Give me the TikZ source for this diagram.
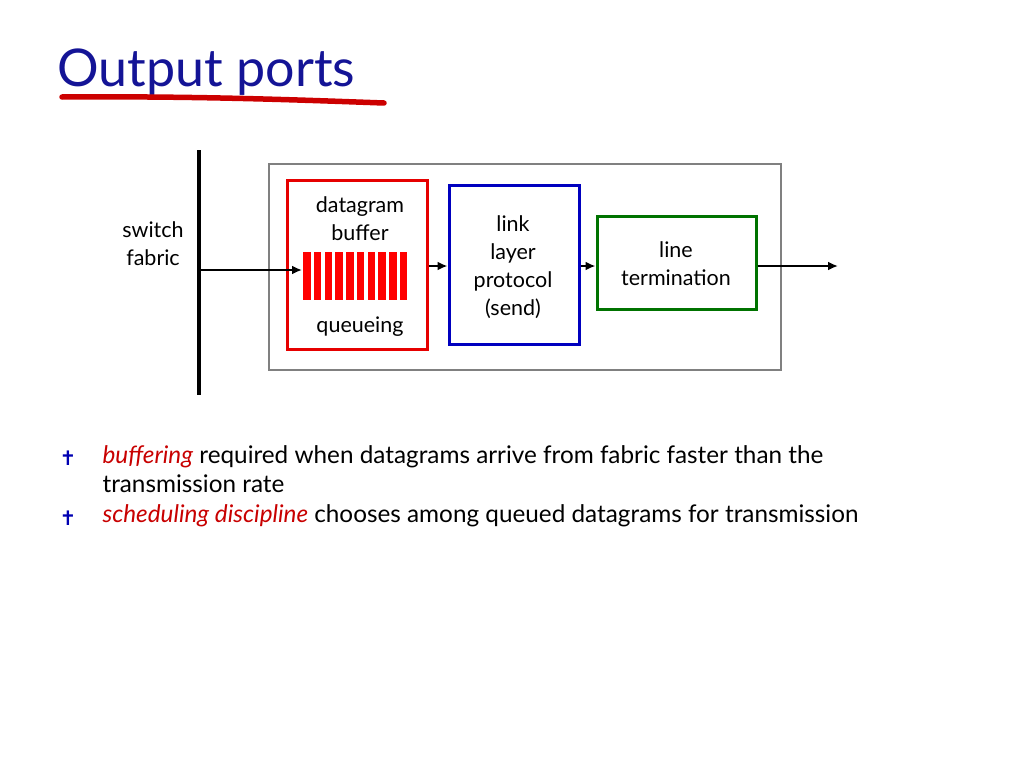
\documentclass[tikz,border=0pt]{standalone}
\usepackage{fontspec}
\setmainfont{Lato}
\newfontfamily\symfont{DejaVu Sans}
\usetikzlibrary{arrows.meta}
\definecolor{titleblue}{RGB}{20,20,150}
\definecolor{hotred}{RGB}{230,0,0}
\definecolor{itred}{RGB}{200,0,0}
\tikzset{
  box/.style={draw, line width=3pt},
  lbl/.style={font=\fontsize{21.5}{28}\selectfont, align=center},
  flow/.style={-{Latex[length=10pt,width=9pt]}, line width=2.2pt},
  qbar/.style={fill=red, draw=none}
}
\begin{document}
\begin{tikzpicture}[x=1pt, y=-1pt]
    \useasboundingbox (0,0) rectangle (1024,768);

    % title
    \node (title) at (54,72) [anchor=west, text=titleblue, font=\fontsize{52}{56}\selectfont] {Output ports};
    \draw [red!80!black, line width=5.5pt, line cap=round] (62,97) .. controls (200,96) and (300,100) .. (384,103);

    % switch fabric
    \coordinate (ftop) at (199,150);
    \coordinate (fbot) at (199,395);
    \draw [line width=3.5pt] (ftop)--(fbot);
    \node (fabric) at (153,244) [lbl] {switch\\fabric};
    \coordinate (fin) at (199,270);

    % port boxes
    \draw [box, draw=gray, line width=2.5pt] (269,164) rectangle (781,370);
    \node (buf) at (357,264.5) [box, draw=hotred, minimum width=140pt, minimum height=169pt] {};
    \node (link) at (514,264.5) [box, draw=blue!75!black, minimum width=130pt, minimum height=159pt] {};
    \node (line) at (676.5,262.5) [box, draw=green!45!black, minimum width=159pt, minimum height=93pt] {};

    \node at (360,219) [lbl] {datagram\\buffer};
    \node at (360,327) [lbl] {queueing};
    \node at (513,267) [lbl] {link\\layer\\protocol\\(send)};
    \node at (676,264) [lbl] {line\\termination};

    % queue
    \foreach \i in {0,...,9}
        \fill [qbar] (303+\i*10.75,252) rectangle ++(7.5,48);
    \coordinate (qin) at (302,270);

    % flow
    \draw [flow] (fin)--(qin);
    \draw [flow] (buf.east |- 0,266)--(link.west |- 0,266);
    \draw [flow] (link.east |- 0,266)--(line.west |- 0,266);
    \draw [flow] (line.east |- 0,266)--(838,266);

    % bullets
    \node (b1) at (68,458) [text=blue!70!black, font=\symfont\fontsize{20}{22}\selectfont] {✝};
    \node (b2) at (68,518) [text=blue!70!black, font=\symfont\fontsize{20}{22}\selectfont] {✝};
    \node (t1) at (99,469) [anchor=west, align=left, font=\fontsize{24.3}{29}\selectfont]
        {\textcolor{itred}{\textit{buffering}} required when datagrams arrive from fabric faster than the\\transmission rate};
    \node (t2) at (99,516) [anchor=west, font=\fontsize{24.3}{29}\selectfont]
        {\textcolor{itred}{\textit{scheduling discipline}} chooses among queued datagrams for transmission};
\end{tikzpicture}
\end{document}
